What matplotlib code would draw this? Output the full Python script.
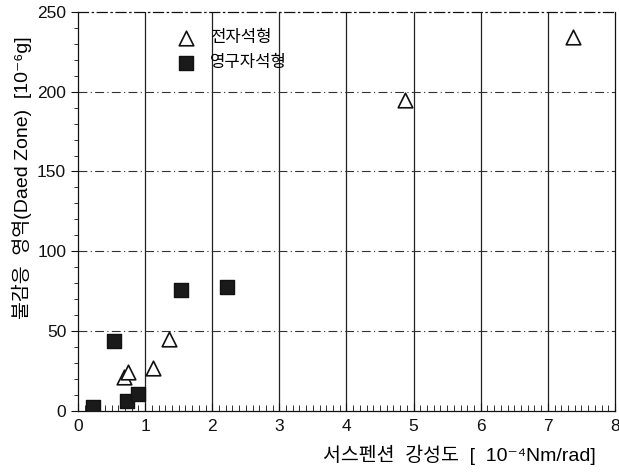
import matplotlib
matplotlib.use("Agg")
import matplotlib.pyplot as plt
from matplotlib.ticker import MultipleLocator

plt.rcParams['font.family'] = ['Liberation Sans', 'Noto Sans CJK KR', 'DejaVu Sans']

# Electromagnet type (전자석형)
em_x = [0.69, 0.74, 1.12, 1.36, 4.87, 7.38]
em_y = [21, 24.6, 26.7, 45, 195, 234]

# Permanent magnet type (영구자석형)
pm_x = [0.23, 0.54, 0.73, 0.90, 1.53, 2.22]
pm_y = [2.7, 44, 6.5, 10.6, 76, 77.7]

fig = plt.figure(figsize=(6.19, 4.74), dpi=100)
ax = fig.add_axes([0.126, 0.133, 0.8675, 0.842])

ax.set_xlim(0, 8)
ax.set_ylim(0, 250)
ax.xaxis.set_major_locator(MultipleLocator(1))
ax.xaxis.set_minor_locator(MultipleLocator(0.1))
ax.yaxis.set_major_locator(MultipleLocator(50))
ax.yaxis.set_minor_locator(MultipleLocator(10))

# Grid: solid verticals, dash-dot horizontals
for xv in range(1, 8):
    ax.axvline(xv, color='#222222', lw=0.9, zorder=1)
for yv in range(50, 250, 50):
    ax.axhline(yv, color='#333333', lw=0.8, ls=(0, (8, 3, 1, 3)), zorder=1)

ax.spines['top'].set_linestyle((0, (8, 3, 1, 3)))
for s in ax.spines.values():
    s.set_color('#111111')
    s.set_linewidth(0.9)

ax.tick_params(axis='x', which='both', direction='in', labelsize=12.5, pad=6, colors='#111111')
ax.tick_params(axis='x', which='major', length=6)
ax.tick_params(axis='x', which='minor', length=4)
ax.tick_params(axis='y', which='both', direction='out', labelsize=12.5, colors='#111111')
ax.tick_params(axis='y', which='major', length=5)
ax.tick_params(axis='y', which='minor', length=3)

ax.scatter(em_x, em_y, marker='^', s=110, facecolor='white', edgecolor='#111111',
           linewidths=1.2, zorder=3, label='전자석형')
ax.scatter(pm_x, pm_y, marker='s', s=110, facecolor='#1a1a1a', edgecolor='#111111',
           linewidths=1.0, zorder=3, label='영구자석형')

ax.legend(loc='upper left', bbox_to_anchor=(0.152, 0.98), frameon=False, fontsize=12,
          handletextpad=0.4, labelspacing=0.6, borderaxespad=0.2)

ax.set_xlabel('서스펜션  강성도  [  10⁻⁴Nm/rad]', fontsize=14)
ax.xaxis.set_label_coords(0.71, -0.085)
ax.set_ylabel('불감응  영역(Daed Zone)  [10⁻⁶g]', fontsize=14)
ax.yaxis.set_label_coords(-0.085, 0.585)

fig.savefig('out.png', dpi=100)
